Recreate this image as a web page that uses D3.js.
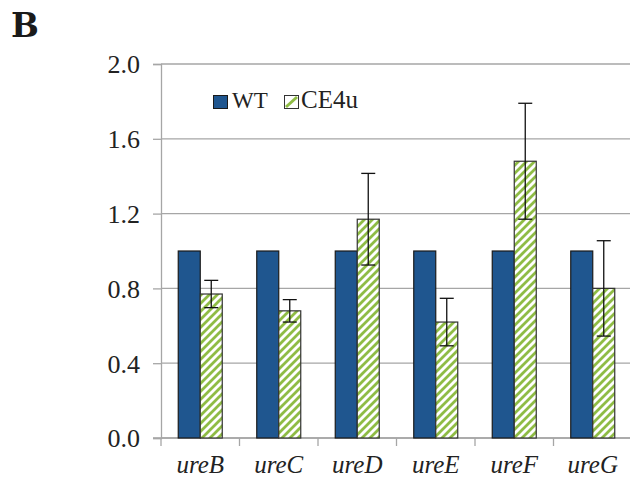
<!DOCTYPE html>
<html><head><meta charset="utf-8">
<script src="https://cdn.jsdelivr.net/npm/d3@7"></script>
<style>body{margin:0;background:#fff}svg{display:block}</style>
</head><body>
<script>
const categories = ["ureB","ureC","ureD","ureE","ureF","ureG"];
const wtValues = [1.0,1.0,1.0,1.0,1.0,1.0];
const ce4uValues = [0.77,0.68,1.17,0.62,1.48,0.80];
const ce4uErrors = [0.073,0.06,0.245,0.127,0.31,0.255];
const yTicks = [0,0.4,0.8,1.2,1.6,2.0];
const seriesNames = ["WT","CE4u"];

const SERIF="Liberation Serif";
const W=630,H=484;
const svg=d3.select("body").append("svg").attr("width",W).attr("height",H)
  .attr("font-family",SERIF).style("font-family",SERIF);
const defs=svg.append("defs");
const pat=defs.append("pattern").attr("id","hatch").attr("patternUnits","userSpaceOnUse")
  .attr("width",8).attr("height",8);
pat.append("rect").attr("width",8).attr("height",8).attr("fill","#fff");
pat.append("path").attr("d","M-2,2 L2,-2 M0,8 L8,0 M6,10 L10,6")
  .attr("stroke","#8fbc45").attr("stroke-width",2.8);

const x0=161, x1=632, yTop=64, yBot=438;
const x=d3.scaleBand().domain(categories).range([x0,x1]).paddingInner(0).paddingOuter(0);
const y=d3.scaleLinear().domain([0,2]).range([yBot,yTop]);
const sub=d3.scaleBand().domain(seriesNames).range([0,44]);
const off=(x.bandwidth()-44)/2;

// gridlines
svg.append("g").selectAll("line").data(yTicks).join("line")
  .attr("x1",x0).attr("x2",W).attr("y1",d=>y(d)).attr("y2",d=>y(d))
  .attr("stroke","#a6a6a6").attr("stroke-width",1.3);

// y axis
const ya=svg.append("g").attr("transform",`translate(${x0},0)`)
  .call(d3.axisLeft(y).tickValues(yTicks).tickFormat(d3.format(".1f")).tickSize(8).tickPadding(13));
ya.attr("font-family",SERIF).attr("font-size",26);
ya.select(".domain").attr("stroke","#a6a6a6").attr("stroke-width",1.3);
ya.selectAll(".tick line").attr("stroke","#a6a6a6").attr("stroke-width",1.3);
ya.selectAll("text").attr("font-family",SERIF).style("font-family",SERIF).style("font-size","26px").attr("fill","#222").attr("dy","0.34em");

// x axis
const xa=svg.append("g").attr("transform",`translate(0,${yBot})`);
xa.append("line").attr("x1",x0-8).attr("x2",W).attr("stroke","#a6a6a6").attr("stroke-width",1.3);
xa.selectAll("line.t").data(categories.concat(["end"])).join("line").attr("class","t")
  .attr("x1",(d,i)=>x0+i*x.bandwidth()).attr("x2",(d,i)=>x0+i*x.bandwidth())
  .attr("y1",0).attr("y2",8).attr("stroke","#a6a6a6").attr("stroke-width",1.3);
xa.selectAll("text").data(categories).join("text")
  .attr("x",d=>x(d)+x.bandwidth()/2).attr("y",35).attr("text-anchor","middle")
  .attr("font-family",SERIF).style("font-family",SERIF).style("font-style","italic").style("font-size","25px").attr("fill","#222")
  .text(d=>d);

// bars
const g=svg.append("g");
g.selectAll("rect.wt").data(categories).join("rect").attr("class","wt")
  .attr("x",d=>x(d)+off+sub("WT")).attr("width",sub.bandwidth())
  .attr("y",(d,i)=>y(wtValues[i])).attr("height",(d,i)=>yBot-y(wtValues[i]))
  .attr("fill","#1f568f").attr("stroke","#1a1a1a").attr("stroke-width",1.2);
g.selectAll("rect.ce").data(categories).join("rect").attr("class","ce")
  .attr("x",d=>x(d)+off+sub("CE4u")).attr("width",sub.bandwidth())
  .attr("y",(d,i)=>y(ce4uValues[i])).attr("height",(d,i)=>yBot-y(ce4uValues[i]))
  .attr("fill","url(#hatch)").attr("stroke","#333").attr("stroke-width",1.2);

// error bars
const eb=svg.append("g").attr("stroke","#111").attr("stroke-width",1.3);
categories.forEach((c,i)=>{
  const cx=x(c)+off+sub("CE4u")+sub.bandwidth()/2;
  const hi=y(ce4uValues[i]+ce4uErrors[i]), lo=y(ce4uValues[i]-ce4uErrors[i]);
  eb.append("line").attr("x1",cx).attr("x2",cx).attr("y1",hi).attr("y2",lo);
  eb.append("line").attr("x1",cx-7).attr("x2",cx+7).attr("y1",hi).attr("y2",hi);
  eb.append("line").attr("x1",cx-7).attr("x2",cx+7).attr("y1",lo).attr("y2",lo);
});

// legend
const lg=svg.append("g");
lg.append("rect").attr("x",213.5).attr("y",95.5).attr("width",14).attr("height",13)
  .attr("fill","#1f568f").attr("stroke","#1a1a1a").attr("stroke-width",1);
lg.append("text").attr("x",232).attr("y",108).text(seriesNames[0])
  .attr("font-family",SERIF).style("font-family",SERIF).style("font-size","23px").attr("fill","#222");
lg.append("rect").attr("x",284.5).attr("y",95.5).attr("width",14).attr("height",13)
  .attr("fill","#fff").attr("stroke","#333").attr("stroke-width",1);
lg.append("line").attr("x1",286).attr("y1",107).attr("x2",297).attr("y2",97).attr("stroke","#8fbc45").attr("stroke-width",3);
lg.append("text").attr("x",301).attr("y",108).text(seriesNames[1])
  .attr("font-family",SERIF).style("font-family",SERIF).style("font-size","25px").attr("fill","#222");

// panel label
svg.append("text").attr("x",11).attr("y",37).attr("font-family","DejaVu Serif").style("font-family","DejaVu Serif")
  .style("font-weight","bold").style("font-size","33px").attr("fill","#1a1a1a").text("B");
</script>
</body></html>
